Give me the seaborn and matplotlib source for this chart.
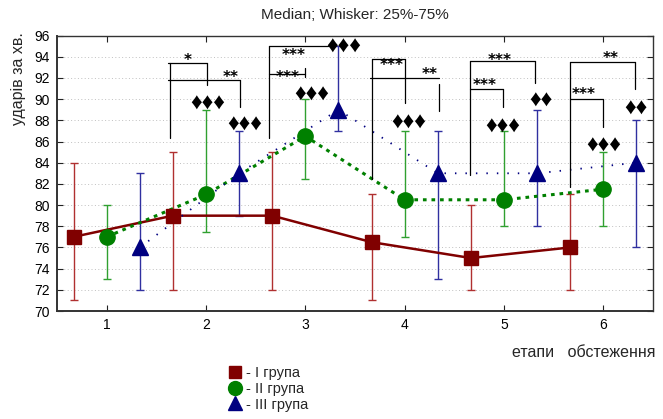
import matplotlib
matplotlib.use("Agg")
import matplotlib.pyplot as plt
from matplotlib.lines import Line2D
import seaborn as sns
import numpy as np
import pandas as pd

# ---------------- data ----------------
stages = [1, 2, 3, 4, 5, 6]
stage_labels = ["1", "2", "3", "4", "5", "6"]
group_names = ["- I група", "- II група", "- III група"]

g1_median = [77, 79, 79, 76.5, 75, 76]
g1_low = [71, 72, 72, 71, 72, 72]
g1_high = [84, 85, 85, 81, 80, 81]

g2_median = [77, 81, 86.5, 80.5, 80.5, 81.5]
g2_low = [73, 77.5, 82.5, 77, 78, 78]
g2_high = [80, 89, 90, 87, 87, 85]

g3_median = [76, 83, 89, 83, 83, 84]
g3_low = [72, 79, 87, 73, 78, 76]
g3_high = [83, 87, 95, 87, 89, 88]

# significance brackets: (x_left, x_right, y, drop_x, drop_top, drop_bottom)
brackets = [
    (1.62, 2.01, 93.4, 2.01, 93.4, 91.3),
    (1.62, 2.34, 91.8, 2.34, 91.8, 89.3),
    (2.63, 3.23, 95.0, None, None, None),
    (2.63, 3.00, 92.4, 3.00, 92.9, 92.1),
    (3.67, 4.00, 93.75, 4.00, 93.75, 89.6),
    (3.65, 4.35, 91.95, 4.35, 91.4, 88.9),
    (4.66, 5.31, 93.6, 5.31, 93.6, 91.5),
    (4.66, 4.99, 91.0, 4.99, 91.0, 89.3),
    (5.665, 6.32, 93.5, 6.32, 93.5, 91.0),
    (5.665, 6.00, 89.97, 6.00, 89.97, 87.4),
]
# left verticals: (x, y_top, y_bottom)
left_verticals = [
    (1.64, 93.4, 86.3),
    (2.63, 95.0, 86.3),
    (3.67, 93.75, 82.5),
    (4.66, 93.6, 82.8),
    (5.665, 93.5, 81.7),
]
# star labels (x, y_center, text)
stars = [
    (1.82, 94.1, "*"), (2.25, 92.5, "**"),
    (2.88, 94.5, "***"), (2.82, 92.5, "***"),
    (3.87, 93.6, "***"), (4.255, 92.7, "**"),
    (4.96, 94.05, "***"), (4.81, 91.7, "***"),
    (6.07, 94.3, "**"), (5.805, 90.9, "***"),
]
# diamond labels (x, y_center, text)
diamonds = [
    (2.02, 89.75, "♦♦♦"), (2.39, 87.8, "♦♦♦"),
    (3.06, 90.6, "♦♦♦"), (3.385, 95.1, "♦♦♦"),
    (4.04, 87.95, "♦♦♦"),
    (4.99, 87.6, "♦♦♦"), (5.37, 90.05, "♦♦"),
    (6.00, 85.8, "♦♦♦"), (6.33, 89.3, "♦♦"),
]

# ---------------- styling ----------------
sns.set_style("ticks")
plt.rcParams["font.family"] = ["Liberation Sans", "DejaVu Sans"]

fig = plt.figure(figsize=(6.63, 4.19), dpi=100)
ax = fig.add_axes([57 / 663, (419 - 311) / 419, 596 / 663, (311 - 35.6) / 419])

offsets = [-1 / 3, 0.0, 1 / 3]
colors = ["#800000", "#008000", "#000080"]
ecolors = ["#b03030", "#30a030", "#3030a0"]
markers = ["s", "o", "^"]
msizes = [10, 11, 11]
lstyles = ["-", (0, (1.2, 1.6)), (0, (0.8, 5))]
lwidths = [1.8, 2.2, 1.3]

groups = [(g1_median, g1_low, g1_high), (g2_median, g2_low, g2_high), (g3_median, g3_low, g3_high)]

for i, (med, lo, hi) in enumerate(groups):
    df = pd.DataFrame({"x": np.array(stages) + offsets[i], "y": med,
                       "lo": lo, "hi": hi})
    ax.errorbar(df["x"], df["y"], yerr=[df["y"] - df["lo"], df["hi"] - df["y"]],
                fmt="none", ecolor=ecolors[i], elinewidth=1.0, capsize=3.2,
                capthick=1.0, zorder=2)
    sns.lineplot(data=df, x="x", y="y", ax=ax, color=colors[i],
                 linestyle=lstyles[i], linewidth=lwidths[i], zorder=3,
                 legend=False)
    ax.plot(df["x"], df["y"], linestyle="none", marker=markers[i],
            markersize=msizes[i], color=colors[i], markeredgecolor=colors[i],
            zorder=4)

# brackets
for (xl, xr, y, dx, dt, db) in brackets:
    ax.plot([xl, xr], [y, y], color="black", lw=0.9, zorder=5)
    if dx is not None:
        ax.plot([dx, dx], [dt, db], color="black", lw=0.9, zorder=5)
for (x, yt, yb) in left_verticals:
    ax.plot([x, x], [yt, yb], color="black", lw=0.9, zorder=5)

for (x, y, t) in stars:
    ax.text(x, y - 0.84, t, ha="center", va="baseline", fontsize=11,
            fontweight="bold", color="black", zorder=6, family=["DejaVu Sans"])
for (x, y, t) in diamonds:
    ax.text(x, y - 0.75, t, ha="center", va="baseline", fontsize=16.5,
            color="black", zorder=6, family=["Liberation Sans", "DejaVu Sans"])

ax.set_xlim(0.5, 6.5)
ax.set_ylim(70, 96)
ax.set_xticks(stages)
ax.set_xticklabels(stage_labels)
ax.set_yticks(np.arange(70, 97, 2))
ax.set_xlabel("")
ax.set_ylabel("")
ax.yaxis.grid(True, linestyle=(0, (1, 2.5)), color="#c0c0c0", linewidth=0.7)
ax.set_axisbelow(True)
ax.tick_params(direction="in", top=True, right=True, length=4, width=0.8,
               labelsize=10, colors="#222222", labelcolor="black", pad=5)
for s in ax.spines.values():
    s.set_color("#333333")
    s.set_linewidth(1.0)
ax.spines["left"].set_linewidth(1.4)
ax.spines["bottom"].set_linewidth(1.4)

fig.text(355 / 663, 1 - 15 / 419, "Median; Whisker: 25%-75%", ha="center",
         va="center", fontsize=11)
fig.text(19 / 663, 1 - 32 / 419, "ударів за хв.", rotation=90, ha="center",
         va="top", fontsize=11.5)
fig.text(655 / 663, 1 - 352 / 419, "етапи   обстеження", ha="right",
         va="center", fontsize=11.5)

handles = [Line2D([], [], linestyle="none", marker=markers[i], markersize=msizes[i] - 1,
                  color=colors[i]) for i in range(3)]
fig.legend(handles, group_names, loc="upper left",
           bbox_to_anchor=(228 / 663, 1 - 366 / 419), frameon=False,
           handlelength=0.9, handletextpad=0.35, labelspacing=0.12,
           borderpad=0, borderaxespad=0, fontsize=10.5)

fig.savefig("out.png", dpi=100)
